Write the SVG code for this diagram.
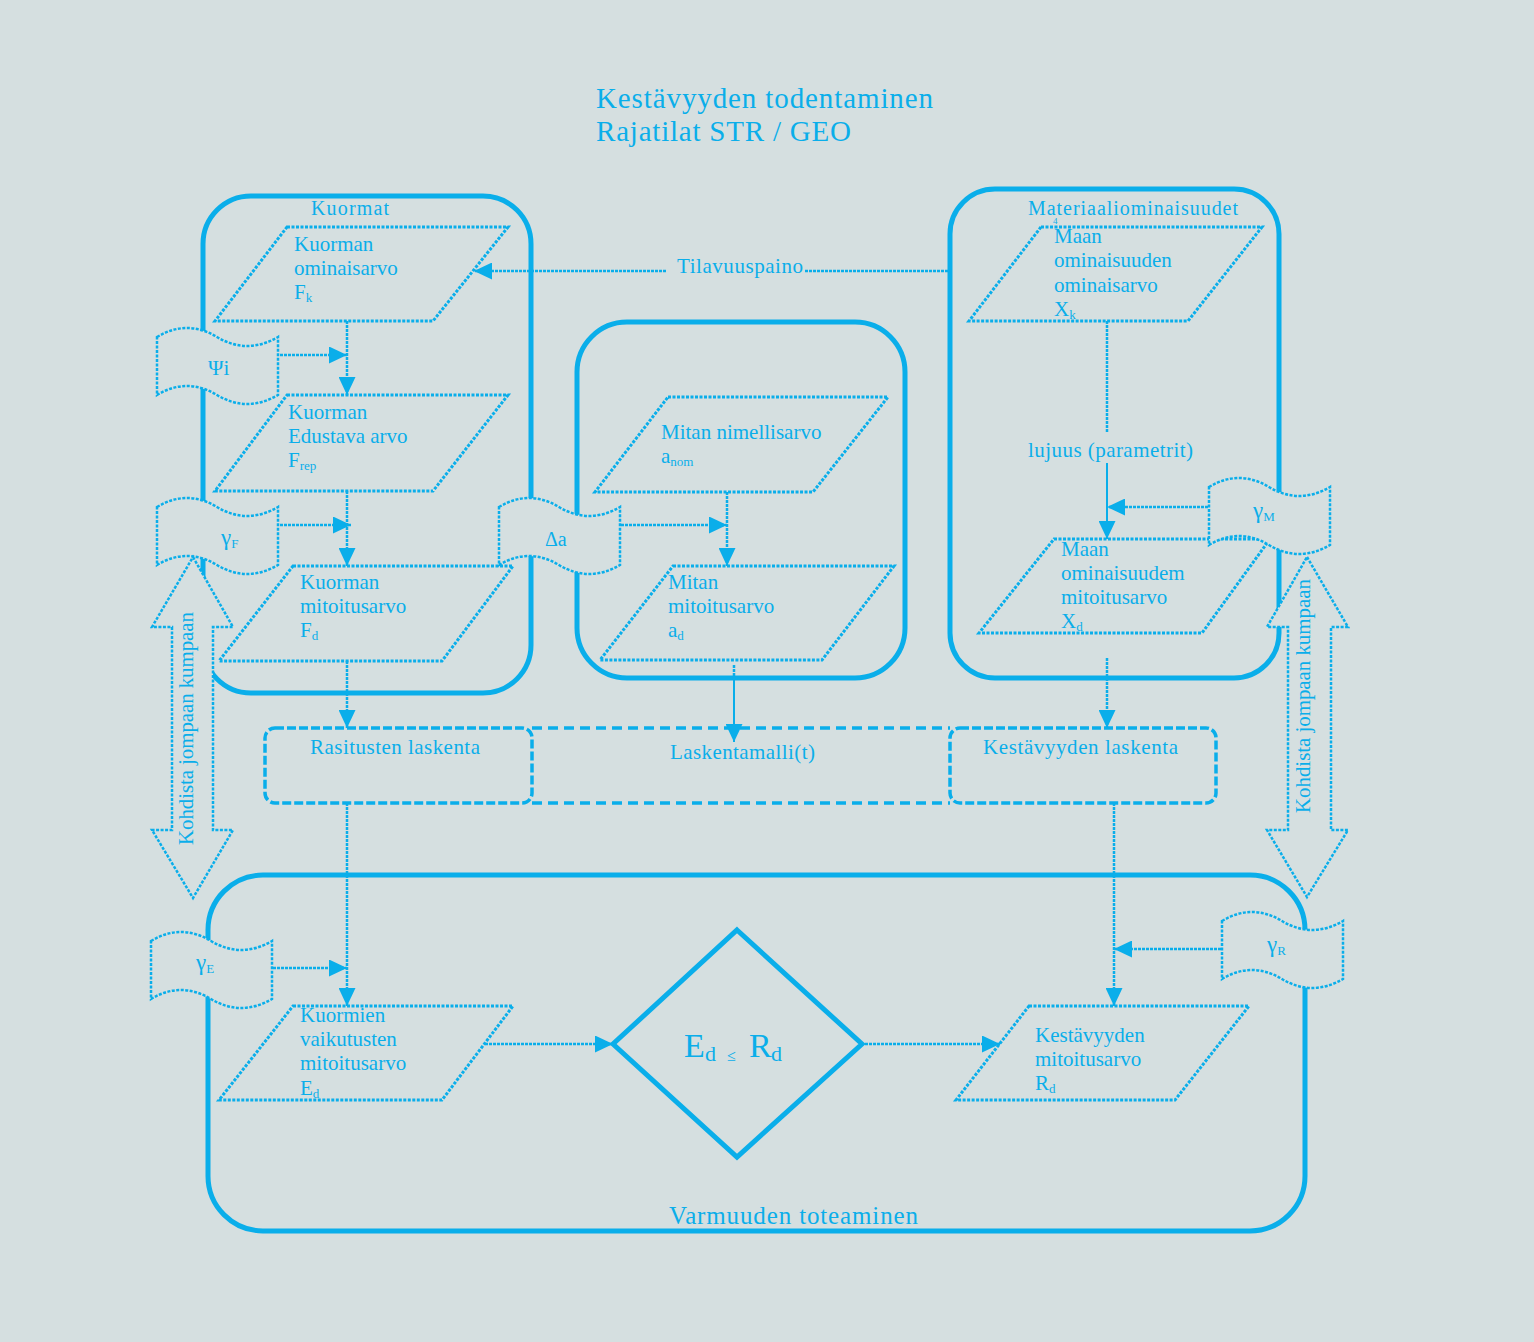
<svg xmlns="http://www.w3.org/2000/svg" width="1534" height="1342" viewBox="0 0 1534 1342">
<defs>
<style>
text{font-family:"Liberation Serif","Times New Roman",serif;fill:#0aaeea}
.grp{fill:none;stroke:#0aaeea;stroke-width:5}
.par{fill:none;stroke:#0aaeea;stroke-width:3;stroke-dasharray:3 1.5}
.con{fill:none;stroke:#0aaeea;stroke-width:2.5;stroke-dasharray:3 1}
.sol{fill:none;stroke:#0aaeea;stroke-width:2}
.flag{fill:#d5dfe0;stroke:#0aaeea;stroke-width:2.5;stroke-dasharray:3 1.5}
.dbl{fill:#d5dfe0;stroke:#0aaeea;stroke-width:2.5;stroke-dasharray:3 1.5}
.dash{fill:none;stroke:#0aaeea;stroke-width:3.5;stroke-dasharray:10 6}
.dash2{fill:none;stroke:#0aaeea;stroke-width:3.5;stroke-dasharray:9 3}
.t{font-size:21px}
.sub{font-size:13px}
</style>
<marker id="ah" markerUnits="userSpaceOnUse" markerWidth="18" markerHeight="17" refX="18" refY="8.5" orient="auto">
<path d="M0,0 L18,8.5 L0,17 Z" fill="#0aaeea"/>
</marker>
<path id="flagshape" d="M0,10 Q30,-8 60,10 T121,10 L121,68 Q90,86 60,68 T0,68 Z"/>
</defs>
<rect width="1534" height="1342" fill="#d5dfe0"/>

<g id="title">
<text x="596" y="108" font-size="29" textLength="337">Kestävyyden todentaminen</text>
<text x="596" y="141" font-size="29" textLength="255">Rajatilat STR / GEO</text>
</g>

<g id="group-kuormat">
<rect class="grp" x="203" y="196" width="328" height="497" rx="48"/>
<text x="311" y="215" font-size="20" textLength="78">Kuormat</text>
</g>
<g id="group-mitta">
<rect class="grp" x="577" y="322" width="328" height="356" rx="50"/>
</g>
<g id="group-materiaali">
<rect class="grp" x="950" y="189" width="329" height="489" rx="45"/>
<text x="1028" y="215" font-size="20" textLength="210">Materiaaliominaisuudet</text>
<text x="1053" y="224" font-size="9">4</text>
</g>
<g id="group-varmuus">
<rect class="grp" x="208" y="875" width="1097" height="356" rx="55"/>
<text x="669" y="1224" font-size="25" textLength="249">Varmuuden toteaminen</text>
</g>

<g id="laskentamalli">
<line class="dash" x1="532" y1="728" x2="950" y2="728"/>
<line class="dash" x1="532" y1="803" x2="950" y2="803"/>
<text class="t" x="670" y="759" textLength="145">Laskentamalli(t)</text>
</g>
<g id="rasitusten-laskenta">
<rect class="dash2" x="265" y="728" width="267" height="75" rx="10"/>
<text class="t" x="310" y="754" textLength="170">Rasitusten laskenta</text>
</g>
<g id="kestavyyden-laskenta">
<rect class="dash2" x="950" y="728" width="266" height="75" rx="10"/>
<text class="t" x="983" y="754" textLength="195">Kestävyyden laskenta</text>
</g>

<g id="connectors">
<line class="con" x1="948" y1="271" x2="805" y2="271"/>
<line class="con" x1="666" y1="271" x2="474" y2="271" marker-end="url(#ah)"/>
<line class="con" x1="347" y1="321" x2="347" y2="395" marker-end="url(#ah)"/>
<line class="con" x1="280" y1="355" x2="347" y2="355" marker-end="url(#ah)"/>
<line class="con" x1="347" y1="491" x2="347" y2="566" marker-end="url(#ah)"/>
<line class="con" x1="280" y1="525" x2="351" y2="525" marker-end="url(#ah)"/>
<line class="con" x1="727" y1="492" x2="727" y2="566" marker-end="url(#ah)"/>
<line class="con" x1="621" y1="525" x2="727" y2="525" marker-end="url(#ah)"/>
<line class="con" x1="347" y1="661" x2="347" y2="728" marker-end="url(#ah)"/>
<line class="con" x1="734" y1="665" x2="734" y2="680"/>
<line class="sol" x1="734" y1="680" x2="734" y2="742" marker-end="url(#ah)"/>
<line class="con" x1="1107" y1="321" x2="1107" y2="433"/>
<line class="sol" x1="1107" y1="463" x2="1107" y2="539" marker-end="url(#ah)"/>
<line class="con" x1="1208" y1="507" x2="1107" y2="507" marker-end="url(#ah)"/>
<line class="con" x1="1107" y1="658" x2="1107" y2="728" marker-end="url(#ah)"/>
<line class="con" x1="347" y1="803" x2="347" y2="1006" marker-end="url(#ah)"/>
<line class="con" x1="273" y1="968" x2="347" y2="968" marker-end="url(#ah)"/>
<line class="con" x1="1114" y1="803" x2="1114" y2="1006" marker-end="url(#ah)"/>
<line class="con" x1="1221" y1="949" x2="1114" y2="949" marker-end="url(#ah)"/>
<line class="con" x1="485" y1="1044" x2="613" y2="1044" marker-end="url(#ah)"/>
<line class="con" x1="865" y1="1044" x2="1000" y2="1044" marker-end="url(#ah)"/>
<text class="t" x="677" y="273" textLength="126">Tilavuuspaino</text>
<text class="t" x="1028" y="457" textLength="165">lujuus (parametrit)</text>
</g>

<g id="node-Fk">
<polygon class="par" points="287,227 508,227 433,321 215,321"/>
<text class="t" x="294" y="251">Kuorman</text>
<text class="t" x="294" y="275">ominaisarvo</text>
<text class="t" x="294" y="299">F<tspan class="sub" dy="3">k</tspan></text>
</g>
<g id="node-Frep">
<polygon class="par" points="287,395 508,395 433,491 215,491"/>
<text class="t" x="288" y="419">Kuorman</text>
<text class="t" x="288" y="443">Edustava arvo</text>
<text class="t" x="288" y="467">F<tspan class="sub" dy="3">rep</tspan></text>
</g>
<g id="node-Fd">
<polygon class="par" points="293,566 513,566 442,661 219,661"/>
<text class="t" x="300" y="589">Kuorman</text>
<text class="t" x="300" y="613">mitoitusarvo</text>
<text class="t" x="300" y="637">F<tspan class="sub" dy="3">d</tspan></text>
</g>
<g id="node-anom">
<polygon class="par" points="668,397 888,397 813,492 595,492"/>
<text class="t" x="661" y="439">Mitan nimellisarvo</text>
<text class="t" x="661" y="463">a<tspan class="sub" dy="3">nom</tspan></text>
</g>
<g id="node-ad">
<polygon class="par" points="673,566 894,566 822,660 600,660"/>
<text class="t" x="668" y="589">Mitan</text>
<text class="t" x="668" y="613">mitoitusarvo</text>
<text class="t" x="668" y="637">a<tspan class="sub" dy="3">d</tspan></text>
</g>
<g id="node-Xk">
<polygon class="par" points="1041,227 1262,227 1188,321 969,321"/>
<text class="t" x="1054" y="243">Maan</text>
<text class="t" x="1054" y="267">ominaisuuden</text>
<text class="t" x="1054" y="292">ominaisarvo</text>
<text class="t" x="1054" y="316">X<tspan class="sub" dy="3">k</tspan></text>
</g>
<g id="node-Xd">
<polygon class="par" points="1054,539 1270,539 1202,633 979,633"/>
<text class="t" x="1061" y="556">Maan</text>
<text class="t" x="1061" y="580">ominaisuudem</text>
<text class="t" x="1061" y="604">mitoitusarvo</text>
<text class="t" x="1061" y="628">X<tspan class="sub" dy="3">d</tspan></text>
</g>
<g id="node-Ed">
<polygon class="par" points="293,1006 513,1006 442,1100 219,1100"/>
<text class="t" x="300" y="1022">Kuormien</text>
<text class="t" x="300" y="1046">vaikutusten</text>
<text class="t" x="300" y="1070">mitoitusarvo</text>
<text class="t" x="300" y="1095">E<tspan class="sub" dy="3">d</tspan></text>
</g>
<g id="node-Rd">
<polygon class="par" points="1029,1006 1249,1006 1175,1100 956,1100"/>
<text class="t" x="1035" y="1042">Kestävyyden</text>
<text class="t" x="1035" y="1066">mitoitusarvo</text>
<text class="t" x="1035" y="1090">R<tspan class="sub" dy="3">d</tspan></text>
</g>
<g id="node-check">
<polygon points="737,930 862,1044 737,1157 613,1044" fill="none" stroke="#0aaeea" stroke-width="5"/>
<text x="684" y="1057" font-size="34">E</text>
<text x="705" y="1061" font-size="22">d</text>
<text x="727" y="1061" font-size="16">≤</text>
<text x="749" y="1057" font-size="34">R</text>
<text x="771" y="1061" font-size="22">d</text>
</g>

<g id="flag-psi">
<use href="#flagshape" class="flag" transform="translate(157,327)"/>
<text x="208" y="375" font-size="21">Ψi</text>
</g>
<g id="flag-gammaF">
<use href="#flagshape" class="flag" transform="translate(157,497)"/>
<text x="221" y="545" font-size="23">γ<tspan class="sub" dy="3" font-size="12">F</tspan></text>
</g>
<g id="flag-delta-a">
<use href="#flagshape" class="flag" transform="translate(499,497)"/>
<text x="545" y="546" font-size="20">Δa</text>
</g>
<g id="flag-gammaM">
<use href="#flagshape" class="flag" transform="translate(1209,477)"/>
<text x="1253" y="518" font-size="23">γ<tspan class="sub" dy="3" font-size="12">M</tspan></text>
</g>
<g id="flag-gammaE">
<use href="#flagshape" class="flag" transform="translate(151,931)"/>
<text x="196" y="970" font-size="23">γ<tspan class="sub" dy="3" font-size="12">E</tspan></text>
</g>
<g id="flag-gammaR">
<use href="#flagshape" class="flag" transform="translate(1222,911)"/>
<text x="1267" y="952" font-size="23">γ<tspan class="sub" dy="3" font-size="12">R</tspan></text>
</g>

<g id="arrow-left">
<polygon class="dbl" points="193,557 233,627 213,627 213,830 233,830 193,898 152,830 172,830 172,627 152,627"/>
<text font-size="21" transform="translate(193,845) rotate(-90)" textLength="233">Kohdista jompaan kumpaan</text>
</g>
<g id="arrow-right">
<polygon class="dbl" points="1307,557 1348,627 1331,627 1331,830 1348,830 1307,897 1267,830 1288,830 1288,627 1267,627"/>
<text font-size="21" transform="translate(1310,813) rotate(-90)" textLength="234">Kohdista jompaan kumpaan</text>
</g>
</svg>
